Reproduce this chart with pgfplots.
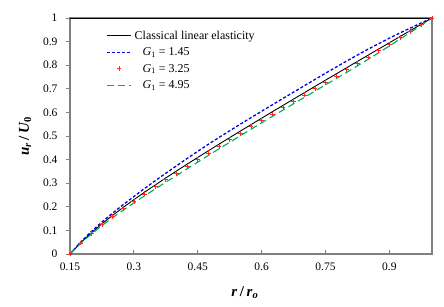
\documentclass[border=0pt]{standalone}
\usepackage{fontspec}
\setmainfont{Liberation Serif}
\usepackage{pgfplots}
\usepackage{pgfplotstable}
\pgfplotsset{compat=1.18}
\definecolor{axgray}{RGB}{128,128,128}
\definecolor{myblue}{RGB}{0,0,230}
\definecolor{mygreen}{RGB}{0,176,80}
\definecolor{myred}{RGB}{255,40,40}

\pgfplotstableread{
r      black   blue    red     green
0.150  0.0000  0.0000  0.0000  0.0000
0.175  0.0475  0.0505  0.0462  0.0448
0.200  0.0895  0.0950  0.0870  0.0840
0.225  0.1279  0.1355  0.1243  0.1200
0.250  0.1637  0.1732  0.1592  0.1540
0.275  0.1976  0.2090  0.1922  0.1860
0.300  0.2302  0.2437  0.2240  0.2165
0.325  0.2617  0.2775  0.2547  0.2465
0.350  0.2923  0.3103  0.2848  0.2755
0.375  0.3223  0.3423  0.3143  0.3045
0.400  0.3517  0.3737  0.3432  0.3320
0.425  0.3806  0.4046  0.3716  0.3608
0.450  0.4092  0.4352  0.4002  0.3894
0.475  0.4375  0.4650  0.4285  0.4177
0.500  0.4655  0.4940  0.4565  0.4457
0.525  0.4932  0.5222  0.4842  0.4734
0.550  0.5208  0.5503  0.5118  0.5010
0.575  0.5482  0.5777  0.5392  0.5284
0.600  0.5754  0.6049  0.5664  0.5556
0.625  0.6026  0.6321  0.5936  0.5828
0.650  0.6295  0.6590  0.6205  0.6097
0.675  0.6564  0.6859  0.6474  0.6366
0.700  0.6832  0.7127  0.6742  0.6634
0.725  0.7099  0.7394  0.7009  0.6901
0.750  0.7366  0.7661  0.7276  0.7168
0.775  0.7631  0.7921  0.7541  0.7433
0.800  0.7896  0.8181  0.7806  0.7698
0.825  0.8161  0.8431  0.8076  0.7973
0.850  0.8425  0.8680  0.8345  0.8247
0.875  0.8688  0.8913  0.8618  0.8530
0.900  0.8951  0.9146  0.8891  0.8813
0.925  0.9214  0.9369  0.9164  0.9106
0.950  0.9476  0.9581  0.9441  0.9398
0.975  0.9738  0.9793  0.9720  0.9698
1.000  1.0000  1.0000  1.0000  1.0000
}\datatable

\begin{document}
\begin{tikzpicture}[x=1pt,y=1pt]
\useasboundingbox (-70,-53) rectangle (374,254);
\begin{axis}[at={(0,0)}, anchor=south west, scale only axis,
  width=362pt, height=236pt,
  xmin=0.15, xmax=1, ymin=0, ymax=1,
  xtick={0.15,0.3,0.45,0.6,0.75,0.9},
  xticklabels={0.15,0.3,0.45,0.6,0.75,0.9},
  ytick={0,0.1,0.2,0.3,0.4,0.5,0.6,0.7,0.8,0.9,1},
  yticklabels={0,0.1,0.2,0.3,0.4,0.5,0.6,0.7,0.8,0.9,1},
  /pgf/number format/assume math mode=true,
  tick pos=left,
  tick align=inside,
  major tick length=4pt,
  tick style={axgray, line width=0.8pt},
  y tick style={xshift=-4pt},
  axis line style={axgray, line width=1.5pt},
  ticklabel style={font=\fontsize{11.5}{13}\selectfont},
  xticklabel style={yshift=-5pt},
  yticklabel style={xshift=-9pt},
  xlabel={\textbf{\textit{r}\,/\,\textit{r}\textsubscript{\textit{o}}}},
  ylabel={\textbf{\textit{u}\textsubscript{\textit{r}}\,/\,\textit{U}\textsubscript{0}}},
  label style={font=\fontsize{15}{17}\selectfont},
  xlabel style={at={(axis description cs:0.483,-0.165)}, anchor=center},
  ylabel style={at={(axis description cs:-0.124,0.5)}, anchor=center},
  legend style={at={(axis description cs:0.1,0.955)}, anchor=north west,
    draw=none, fill=none, font=\fontsize{12}{14}\selectfont,
    row sep=3pt, cells={anchor=west}, inner sep=0pt,
    nodes={inner xsep=3pt}},
  legend image code/.code={\draw[mark repeat=2,mark phase=2,#1] plot coordinates {(0pt,0pt) (12pt,0pt) (24pt,0pt)};},
  clip=false,
]
\draw[black, line width=0.8pt] (rel axis cs:0,1) -- (rel axis cs:1,1);
\addplot[black, line width=0.9pt] table[x=r, y=black] {\datatable};
\addlegendentry{Classical linear elasticity}
\addplot[color=myblue, line width=1.3pt, dash pattern=on 3pt off 2pt] table[x=r, y=blue] {\datatable};
\addlegendentry{\hspace{8pt}\textit{G}\textsubscript{1} = 1.45}
\addplot[color=myred, only marks, mark=+, mark size=2.4pt, line width=0.7pt] table[x=r, y=red] {\datatable};
\addlegendentry{\hspace{8pt}\textit{G}\textsubscript{1} = 3.25}
\addplot[color=mygreen, line width=1.1pt, dash pattern=on 7pt off 4pt] table[x=r, y=green] {\datatable};
\addlegendentry{\hspace{8pt}\textit{G}\textsubscript{1} = 4.95}
\addplot[color=myred, only marks, mark=+, mark size=2.4pt, line width=0.7pt, forget plot] table[x=r, y=red] {\datatable};
\end{axis}
\end{tikzpicture}
\end{document}
